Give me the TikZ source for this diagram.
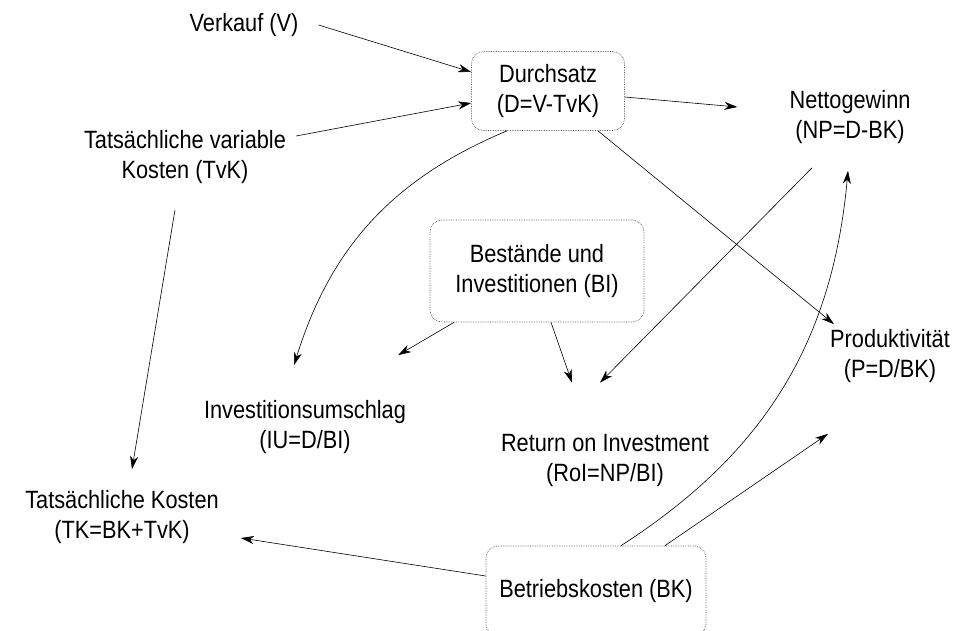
\documentclass[tikz,border=0pt]{standalone}
\usepackage{fontspec}
\setmainfont[FakeStretch=0.87]{Liberation Sans}
\usetikzlibrary{arrows.meta}

\begin{document}
\begin{tikzpicture}[x=1pt,y=-1pt,
    every node/.style={font=\fontsize{25}{30}\selectfont},
    lbl/.style={align=center,inner sep=0pt},
    box/.style={draw=black!65,densely dotted,line width=0.7pt,rounded corners=12pt,align=center},
    arr/.style={-{Stealth[length=13pt,width=8pt,inset=4pt]},line width=0.6pt}]
    \useasboundingbox (0,0) rectangle (963,631);
    \node[lbl] (verkauf) at (244,25) {Verkauf (V)};
    \node[box,minimum width=153pt,minimum height=79pt] (durchsatz) at (548,91) {Durchsatz\\(D=V-TvK)};
    \node[lbl] (nettogewinn) at (850,117) {Nettogewinn\\(NP=D-BK)};
    \node[lbl] (tvk) at (185,157) {Tatsächliche variable\\Kosten (TvK)};
    \node[box,minimum width=214pt,minimum height=102pt] (bi) at (537,271) {Bestände und\\Investitionen (BI)};
    \node[lbl] (prod) at (890,356) {Produktivität\\(P=D/BK)};
    \node[lbl] (iu) at (305,427) {Investitionsumschlag\\(IU=D/BI)};
    \node[lbl] (roi) at (605,460) {Return on Investment\\(RoI=NP/BI)};
    \node[lbl] (tk) at (122,517) {Tatsächliche Kosten\\(TK=BK+TvK)};
    \node[box,minimum width=220pt,minimum height=90pt] (bk) at (596,591) {Betriebskosten (BK)};
    \draw[arr] ([xshift=20pt]verkauf.east) -- ([yshift=19pt]durchsatz.west);
    \draw[arr] ([shift={(10pt,21pt)}]tvk.east) -- ([yshift=-12pt]durchsatz.west);
    \draw[arr] ([yshift=-6pt]durchsatz.east) -- ([shift={(-52pt,10pt)}]nettogewinn.west);
    \draw[arr] ([xshift=-41pt]durchsatz.south) to[bend right=25] ([shift={(-11pt,35pt)}]iu.north);
    \draw[arr] ([xshift=50pt]durchsatz.south) -- ([shift={(4pt,5pt)}]prod.north west);
    \draw[arr] ([shift={(-10pt,-26pt)}]tvk.south) -- ([shift={(10pt,21pt)}]tk.north);
    \draw[arr] ([xshift=-83pt]bi.south) -- ([shift={(-8pt,45pt)}]iu.north east);
    \draw[arr] ([xshift=14pt]bi.south) -- ([shift={(-33pt,51pt)}]roi.north);
    \draw[arr] ([shift={(-38pt,-24pt)}]nettogewinn.south) -- ([shift={(-5pt,51pt)}]roi.north);
    \draw[arr] ([xshift=25pt]bk.north) to[bend right=26] ([shift={(-2pt,-27pt)}]nettogewinn.south);
    \draw[arr] ([xshift=69pt]bk.north) -- ([shift={(-2pt,-51pt)}]prod.south west);
    \draw[arr] ([yshift=15pt]bk.west) -- ([shift={(22pt,-21pt)}]tk.east);
\end{tikzpicture}
\end{document}
